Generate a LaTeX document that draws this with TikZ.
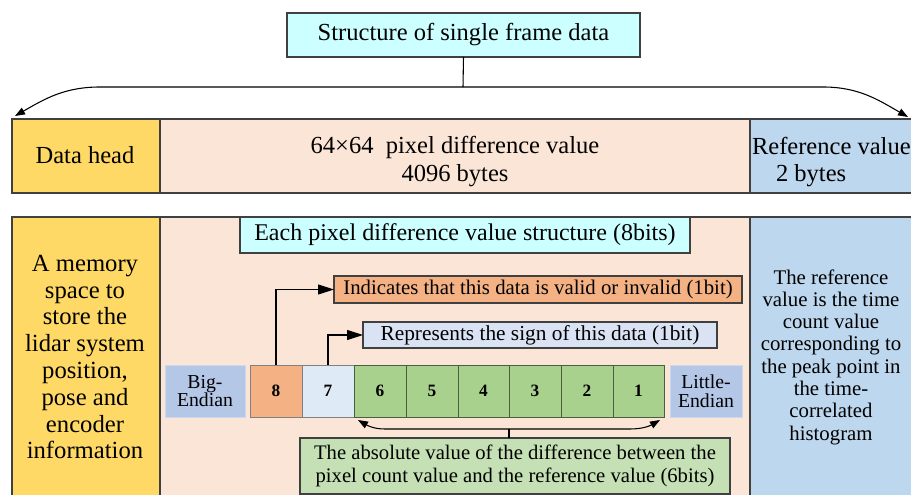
\documentclass[tikz,border=0pt]{standalone}
\usepackage{fontspec}
\setmainfont{Liberation Serif}
\usetikzlibrary{arrows.meta,calc}
\definecolor{headyellow}{HTML}{FFD966}
\definecolor{bodypeach}{HTML}{FBE5D6}
\definecolor{refblue}{HTML}{BDD7EE}
\definecolor{titlecyan}{HTML}{CCFFFF}
\definecolor{validorange}{HTML}{F4B183}
\definecolor{signblue}{HTML}{DAE3F3}
\definecolor{bitseven}{HTML}{DEEBF7}
\definecolor{bitgreen}{HTML}{A9D18E}
\definecolor{absgreen}{HTML}{C5E0B4}
\definecolor{endianblue}{HTML}{B4C7E7}
\definecolor{edge}{HTML}{404040}
\newcommand\fsz[2]{\fontsize{#1}{#2}\selectfont}
% a box given by its corners in pixel units: name, style, x1, y1, x2, y2, text
\newcommand\pxbox[7]{%
  \pgfmathsetmacro\bw{(#5-#3)*0.75}%
  \pgfmathsetmacro\bh{(#6-#4)*0.75}%
  \node[#2, minimum width=\bw pt, minimum height=\bh pt] (#1)
    at ({(#3+#5)/2},{(#4+#6)/2}) {#7};}
\begin{document}
\begin{tikzpicture}[x=0.75pt,y=-0.75pt,
  every node/.style={inner sep=0pt, outer sep=0pt, align=center, text=black},
  frame/.style={draw=edge, line width=0.8pt},
  cell/.style={draw=#1, line width=0.6pt},
  bitnum/.style={font=\bfseries\fsz{13}{15}},
  endian/.style={font=\fsz{14.8}{14}},
  topfont/.style={font=\fsz{18.4}{21}},
  link/.style={draw=black, line width=0.8pt},
  bigtip/.style={-{Triangle[length=12pt,width=7.5pt]}},
  smalltip/.style={-{Triangle[length=7.5pt,width=5.5pt]}}]
\useasboundingbox (0,0) rectangle (911,495);
\begin{scope}
\clip (0,0) rectangle (911,495);

% upper band: frame layout
\pxbox{title}{frame, fill=titlecyan, topfont}{287}{13}{640}{57}{Structure of single frame data}
\pxbox{head}{frame, fill=headyellow}{12}{119}{160}{193}{}
\pxbox{pixels}{frame, fill=bodypeach}{160}{119}{750}{193}{}
\pxbox{refval}{frame, fill=refblue}{750}{119}{925}{193}{}
\node[topfont] (headtxt) at (85,155) {Data head};
\node[topfont] (pixtxt) at (455,162) {64×64\ \ pixel difference value\\4096 bytes};
\node[topfont, anchor=west] (reftxt) at (752,146) {Reference value};
\node[topfont, anchor=west] (bytestxt) at (776,176) {2 bytes};

% lower band: detailed description
\pxbox{memory}{frame, fill=headyellow}{12}{217}{160}{510}{}
\pxbox{pixbody}{frame, fill=bodypeach}{160}{217}{750}{510}{}
\pxbox{refbody}{frame, fill=refblue}{750}{217}{925}{510}{}
\node[font=\fsz{18.5}{20.1}] (memtxt) at (85,357)
  {A memory\\space to\\store the\\lidar system\\position,\\pose and\\encoder\\information};
\node[font=\fsz{15.6}{16.7}] (reftxt2) at (831,357)
  {The reference\\value is the time\\count value\\corresponding to\\the peak point in\\the time-\\correlated\\histogram};

\pxbox{each}{frame, fill=titlecyan, font=\fsz{18}{20}}{240}{217}{690}{253}{Each pixel difference value structure (8bits)}
\pxbox{valid}{frame, fill=validorange, font=\fsz{15.6}{17}}{334}{276}{742}{303}{Indicates that this data is valid or invalid (1bit)}
\pxbox{sign}{frame, fill=signblue, font=\fsz{16}{17}}{363}{322}{717}{348}{Represents the sign of this data (1bit)}

% the eight bits
\pxbox{big}{cell=endianblue!70!white, fill=endianblue, endian}{165}{365}{245}{417}{Big-\\Endian}
\pxbox{c8}{cell=gray, fill=validorange, bitnum}{250}{365}{302}{417}{8}
\pxbox{c7}{cell=gray, fill=bitseven, bitnum}{302}{365}{354}{417}{7}
\pxbox{c6}{cell=black!55!bitgreen, fill=bitgreen, bitnum}{354}{365}{406}{417}{6}
\pxbox{c5}{cell=black!55!bitgreen, fill=bitgreen, bitnum}{406}{365}{458}{417}{5}
\pxbox{c4}{cell=black!55!bitgreen, fill=bitgreen, bitnum}{458}{365}{509}{417}{4}
\pxbox{c3}{cell=black!55!bitgreen, fill=bitgreen, bitnum}{509}{365}{561}{417}{3}
\pxbox{c2}{cell=black!55!bitgreen, fill=bitgreen, bitnum}{561}{365}{613}{417}{2}
\pxbox{c1}{cell=black!55!bitgreen, fill=bitgreen, bitnum}{613}{365}{664}{417}{1}
\pxbox{little}{cell=endianblue!70!white, fill=endianblue, endian}{670}{365}{742}{417}{Little-\\Endian}

\pxbox{abs}{frame, fill=absgreen, font=\fsz{15.5}{17.2}}{300}{438}{730}{494}{The absolute value of the difference between the\\pixel count value and the reference value (6bits)}

% connectors
\coordinate (hub) at (463,87);
\draw[link] (title.south) -- (hub);
\draw[link, smalltip] (hub) -- (100,87) to[out=180,in=30] ($(head.north west)+(3,-3)$);
\draw[link, smalltip] (hub) -- (823,87) to[out=0,in=150] (908,117);
\draw[link, bigtip] (c8.north) |- (valid.west);
\draw[link, bigtip] (c7.north) |- (sign.west);
\coordinate (brace) at (509,429);
\draw[link] (brace |- abs.north) -- (brace);
\draw[link, smalltip] (brace) -- (385,429) to[out=180,in=-30] ($(c6.south west)+(4,3)$);
\draw[link, smalltip] (brace) -- (630,429) to[out=0,in=-150] ($(c1.south east)+(-4,3)$);
\end{scope}
\end{tikzpicture}
\end{document}
